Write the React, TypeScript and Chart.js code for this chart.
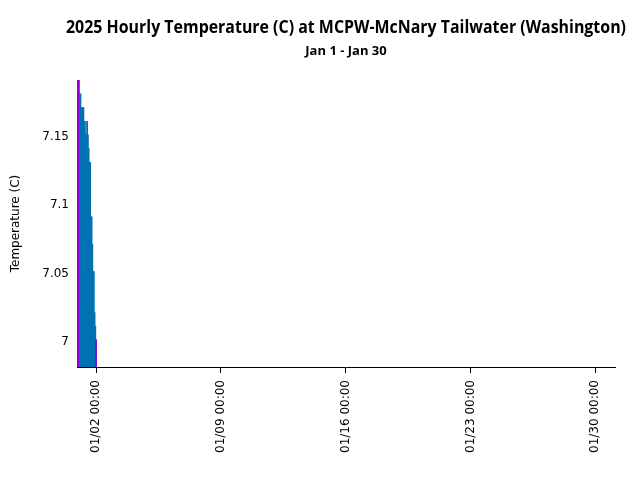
import React, { useEffect, useRef } from "react";
import { Chart, registerables } from "chart.js";

Chart.register(...registerables);

// Hours since 2025-01-01 00:00
const hours: number[] = [0,1,2,3,4,5,6,7,8,9,10,11,12,13,14,15,16,17,18,19,20,21,22,23,24];
const temperatures: number[] = [
  7.19, 7.19, 7.18, 7.18, 7.17, 7.17, 7.17, 7.17, 7.16, 7.16, 7.15, 7.15, 7.16,
  7.15, 7.14, 7.13, 7.13, 7.09, 7.09, 7.07, 7.05, 7.05, 7.02, 7.01, 7.0,
];
const xTickHours: number[] = [24, 192, 360, 528, 696];
const xTickLabels: string[] = ["01/02 00:00", "01/09 00:00", "01/16 00:00", "01/23 00:00", "01/30 00:00"];
const yTicks: number[] = [7, 7.05, 7.1, 7.15];

const titleText = "2025 Hourly Temperature (C) at MCPW-McNary Tailwater (Washington)";
const subtitleText = "Jan 1 - Jan 30";
const yTitleText = "Temperature (C)";

const headerPlugin = {
  id: "header",
  afterDraw(chart: any) {
    const ctx = chart.ctx;
    const area = chart.chartArea;
    const cx = (area.left + area.right) / 2;
    ctx.save();
    ctx.fillStyle = "#000";
    ctx.textAlign = "center";
    ctx.textBaseline = "alphabetic";
    ctx.font = "bold 18px 'Open Sans'";
    ctx.fillText(titleText, cx, 33, 560);
    ctx.font = "bold 13px 'Open Sans'";
    ctx.fillText(subtitleText, cx, 55, 84);
    // y-axis title
    ctx.translate(16, (area.top + area.bottom) / 2);
    ctx.rotate(-Math.PI / 2);
    ctx.textBaseline = "middle";
    ctx.font = "12px 'DejaVu Sans'";
    ctx.fillText(yTitleText, 0, 0);
    ctx.restore();
  },
};

export default function App() {
  const ref = useRef<HTMLCanvasElement>(null);
  useEffect(() => {
    document.body.style.margin = "0";
    const maxV = Math.max(...temperatures);
    const minV = Math.min(...temperatures);
    const iMax = temperatures.indexOf(maxV);
    const iMin = temperatures.lastIndexOf(minV);
    const extremes = [iMax, iMin];
    const chart = new Chart(ref.current!, {
      type: "bar",
      data: {
        datasets: [
          {
            label: "Extremes",
            data: extremes.map((i) => ({ x: hours[i], y: temperatures[i] })),
            backgroundColor: "#9400d3",
            borderWidth: 0,
            barThickness: 1,
            grouped: false,
            order: 0,
            base: 6.9,
          },
          {
            label: "Temperature",
            data: hours.map((h, i) => ({ x: h, y: temperatures[i] })),
            backgroundColor: "#0072b2",
            borderWidth: 0,
            barThickness: 1.2,
            grouped: false,
            order: 1,
            base: 6.9,
          },
        ],
      },
      plugins: [headerPlugin],
      options: {
        animation: false,
        responsive: false,
        devicePixelRatio: 1,
        layout: { padding: { left: 0, right: 25, top: 80, bottom: 0 } },
        plugins: {
          legend: { display: false },
          tooltip: { enabled: false },
          title: { display: false },
          subtitle: { display: false },
        },
        scales: {
          x: {
            type: "linear",
            min: -1.6,
            max: 722.5,
            offset: false,
            grid: { display: true, offset: false, drawOnChartArea: false, drawTicks: true, tickLength: 6, color: "#000" },
            border: { display: true, color: "#000", width: 1 },
            afterBuildTicks: (scale: any) => {
              scale.ticks = xTickHours.map((v) => ({ value: v }));
            },
            afterFit: (scale: any) => {
              scale.height = 113;
            },
            ticks: {
              autoSkip: false,
              minRotation: 90,
              maxRotation: 90,
              padding: 7,
              color: "#000",
              font: { family: "'DejaVu Sans'", size: 12 },
              callback: (v: any) => {
                const i = xTickHours.indexOf(Number(v));
                return i >= 0 ? xTickLabels[i] : "";
              },
            },
          },
          y: {
            type: "linear",
            min: 6.9802,
            max: 7.1902,
            grid: { display: false, drawTicks: false },
            border: { display: true, color: "#000", width: 1 },
            afterBuildTicks: (scale: any) => {
              scale.ticks = yTicks.map((v) => ({ value: v }));
            },
            afterFit: (scale: any) => {
              scale.width = 77;
            },
            title: { display: false },
            ticks: {
              padding: 8,
              labelOffset: 2,
              color: "#000",
              font: { family: "'DejaVu Sans'", size: 12 },
              callback: (v: any) => String(Number(v)),
            },
          },
        },
      },
    });
    return () => chart.destroy();
  }, []);
  return (
    <div style={{ width: 640, height: 480 }}>
      <canvas ref={ref} width={640} height={480} style={{ display: "block" }} />
    </div>
  );
}
